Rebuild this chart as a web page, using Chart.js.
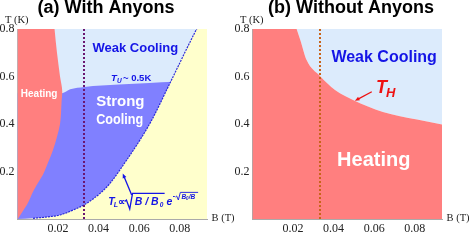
<!DOCTYPE html>
<html>
<head>
<meta charset="utf-8">
<script src="https://cdn.jsdelivr.net/npm/chart.js@4.4.1/dist/chart.umd.min.js"></script>
<style>
  html, body { margin: 0; padding: 0; background: #fff; }
  #wrap { position: relative; width: 471px; height: 250px; overflow: hidden; }
  #chartA { position: absolute; left: 0; top: 0; }
  #chartB { position: absolute; left: 235px; top: 0; }
</style>
</head>
<body>
<div id="wrap">
  <canvas id="chartA" width="235" height="250"></canvas>
  <canvas id="chartB" width="236" height="250"></canvas>
</div>
<script>
// axes
const bMax = 0.0934;
const tMax = 0.8;
const bTicks = [0.02, 0.04, 0.06, 0.08];
const tTicks = [0.2, 0.4, 0.6, 0.8];

// (a) With Anyons
const anyonLineB = 0.0328;
// heating edge, read as B at each T (the edge bends back, so it is indexed on T)
const heatEdgeT = [0, 0.03, 0.06, 0.12, 0.165, 0.185, 0.24, 0.29, 0.35, 0.4, 0.5, 0.535, 0.6, 0.7, 0.8, 0.9];
const heatEdgeB = [0.0002, 0.0024, 0.0047, 0.008, 0.0111, 0.0125, 0.0152, 0.0175, 0.0196, 0.021, 0.0218, 0.0221, 0.021, 0.0195, 0.0183, 0.0175];
// T_U, top of strong cooling
const upperB = [0, 0.022, 0.026, 0.033, 0.05, 0.065, 0.077];
const upperT = [0.53, 0.53, 0.546, 0.556, 0.566, 0.573, 0.578];
// T_L, lower edge of cooling
const lowerB = [0, 0.0077, 0.016, 0.021, 0.0275, 0.0341, 0.0407, 0.0456, 0.0538, 0.0604, 0.0662, 0.0752, 0.0883, 0.096];
const lowerT = [0, 0.003, 0.01, 0.017, 0.038, 0.066, 0.108, 0.15, 0.248, 0.333, 0.417, 0.573, 0.8, 0.92];

// (b) Without Anyons
const noAnyonLineB = 0.0333;
const hotB = [0, 0.0179, 0.0218, 0.0236, 0.0267, 0.0333, 0.0407, 0.0496, 0.0643, 0.0811, 0.0945];
const hotT = [0.9, 0.9, 0.8, 0.754, 0.669, 0.602, 0.543, 0.501, 0.451, 0.419, 0.396];

const red = "#ff7f7f";
const paleBlue = "#dcebfc";
const strongBlue = "#8080ff";
const paleYellow = "#ffffcc";
const sans = "'Liberation Sans', Arial, sans-serif";
const serif = "'Liberation Serif', 'Times New Roman', serif";

const pts = (xs, ys) => xs.map((x, i) => ({ x: x, y: ys[i] }));

function area(data, color, fill, order, extra) {
  return Object.assign({
    data: data,
    backgroundColor: color,
    borderWidth: 0,
    borderColor: "transparent",
    fill: fill,
    pointRadius: 0,
    cubicInterpolationMode: "monotone",
    clip: 0,
    order: order,
  }, extra || {});
}

function dotLine(b, color, order) {
  return {
    data: [{ x: b, y: 0 }, { x: b, y: tMax }],
    borderColor: color,
    borderWidth: 2,
    borderDash: [2, 2],
    pointRadius: 0,
    fill: false,
    clip: 0,
    order: order,
  };
}

function axes() {
  return {
    x: {
      type: "linear", min: 0, max: bMax,
      afterFit: (s) => { s.height = 31; },
      afterBuildTicks: (s) => { s.ticks = bTicks.map((v) => ({ value: v })); },
      grid: { display: false, drawTicks: false },
      border: { color: "#aaaaaa", width: 1 },
      ticks: {
        color: "#222", padding: 3, maxRotation: 0, autoSkip: false,
        font: { family: serif, size: 12 },
        callback: (v) => v.toFixed(2),
      },
    },
    y: {
      type: "linear", min: 0, max: tMax,
      afterFit: (s) => { s.width = 17.4; },
      afterBuildTicks: (s) => { s.ticks = tTicks.map((v) => ({ value: v })); },
      grid: { display: false, drawTicks: false },
      border: { color: "#aaaaaa", width: 1 },
      ticks: {
        color: "#222", padding: 3, autoSkip: false,
        font: { family: serif, size: 12 },
        callback: (v) => v.toFixed(1),
      },
    },
  };
}

function put(ctx, s, x, y, font, color, align, maxW) {
  ctx.save();
  ctx.font = font;
  ctx.fillStyle = color;
  ctx.textAlign = align || "left";
  ctx.textBaseline = "alphabetic";
  if (maxW) ctx.fillText(s, x, y, maxW);
  else ctx.fillText(s, x, y);
  ctx.restore();
}

function arrow(ctx, x1, y1, x2, y2, color, w) {
  const a = Math.atan2(y2 - y1, x2 - x1);
  const h = 5;
  ctx.save();
  ctx.strokeStyle = color;
  ctx.fillStyle = color;
  ctx.lineWidth = w;
  ctx.beginPath();
  ctx.moveTo(x1, y1);
  ctx.lineTo(x2 - Math.cos(a) * h * 0.7, y2 - Math.sin(a) * h * 0.7);
  ctx.stroke();
  ctx.beginPath();
  ctx.moveTo(x2, y2);
  ctx.lineTo(x2 - h * Math.cos(a - 0.4), y2 - h * Math.sin(a - 0.4));
  ctx.lineTo(x2 - h * Math.cos(a + 0.4), y2 - h * Math.sin(a + 0.4));
  ctx.closePath();
  ctx.fill();
  ctx.restore();
}

function poly(ctx, p, color, w) {
  ctx.save();
  ctx.strokeStyle = color;
  ctx.lineWidth = w;
  ctx.beginPath();
  p.forEach((q, i) => (i ? ctx.lineTo(q[0], q[1]) : ctx.moveTo(q[0], q[1])));
  ctx.stroke();
  ctx.restore();
}

// titles and axis names
function frameText(title, titleX) {
  return {
    id: "frameText",
    afterDraw(chart) {
      const ctx = chart.ctx;
      const ca = chart.chartArea;
      put(ctx, title, titleX, 13, "bold 18px " + sans, "#000", "center");
      put(ctx, "T (K)", ca.left - 12.4, ca.top - 6, "10.5px " + serif, "#222");
      put(ctx, "B (T)", ca.right + 4.5, ca.bottom + 2, "10.5px " + serif, "#222");
    },
  };
}

const blue = "#1414e6";

const notesA = {
  id: "notesA",
  afterDatasetsDraw(chart) {
    const ctx = chart.ctx;
    const px = (b) => chart.scales.x.getPixelForValue(b);
    const py = (t) => chart.scales.y.getPixelForValue(t);
    put(ctx, "Weak Cooling", px(0.0581), py(0.704), "bold 13px " + sans, blue, "center");
    put(ctx, "Heating", px(0.0107), py(0.515), "bold 10px " + sans, "#fff", "center");
    put(ctx, "Strong", px(0.0507), py(0.476), "bold 15px " + sans, "#fff", "center");
    put(ctx, "Cooling", px(0.0504), py(0.402), "bold 15px " + sans, "#fff", "center", 47);

    // T_U ~ 0.5K
    let x = px(0.0461), y = py(0.577);
    put(ctx, "T", x, y - 1, "italic bold 9.5px " + sans, blue);
    put(ctx, "U", x + 6, y + 1, "italic bold 6.5px " + sans, blue);
    put(ctx, "~ 0.5K", x + 12, y - 1, "bold 9.5px " + sans, blue);

    // T_L formula
    x = px(0.0447); y = py(0.059);
    put(ctx, "T", x, y, "italic bold 10.5px " + sans, blue);
    put(ctx, "L", x + 5.5, y + 2, "italic bold 7px " + sans, blue);
    put(ctx, "\u221D", x + 10, y, "bold 10px " + sans, blue);
    poly(ctx, [[x + 16.5, y - 3.5], [x + 18.3, y - 5], [x + 21.6, y + 4], [x + 24.4, y - 11.7], [x + 56.5, y - 11.7]], blue, 1.3);
    put(ctx, "B / B", x + 26.5, y, "italic bold 10.5px " + sans, blue);
    put(ctx, "0", x + 51.5, y + 2, "italic bold 6.5px " + sans, blue);
    put(ctx, "e", x + 58.4, y, "italic bold 10.5px " + sans, blue);
    put(ctx, "-", x + 64.5, y - 6.5, "bold 7px " + sans, blue);
    poly(ctx, [[x + 67.3, y - 8], [x + 68.5, y - 9], [x + 70.2, y - 5], [x + 72.2, y - 12.6], [x + 90, y - 12.6]], blue, 0.9);
    put(ctx, "B", x + 73.4, y - 6, "italic bold 6.5px " + sans, blue);
    put(ctx, "0", x + 77.8, y - 4.8, "italic bold 4.5px " + sans, blue);
    put(ctx, "/B", x + 80.5, y - 6, "italic bold 6.5px " + sans, blue);

    arrow(ctx, px(0.0563), py(0.101), px(0.0519), py(0.192), blue, 1.3);
  },
};

const notesB = {
  id: "notesB",
  afterDatasetsDraw(chart) {
    const ctx = chart.ctx;
    const px = (b) => chart.scales.x.getPixelForValue(b);
    const py = (t) => chart.scales.y.getPixelForValue(t);
    put(ctx, "Weak Cooling", px(0.0649), py(0.661), "bold 16px " + sans, blue, "center");
    put(ctx, "Heating", px(0.0598), py(0.224), "bold 20px " + sans, "#fff", "center");
    const hot = "#ee1111";
    put(ctx, "T", px(0.0609), py(0.531), "italic bold 18px " + sans, hot);
    put(ctx, "H", px(0.0658), py(0.514), "italic bold 13px " + sans, hot);
    arrow(ctx, px(0.0588), py(0.536), px(0.0505), py(0.498), hot, 1.3);
  },
};

const common = {
  responsive: false,
  animation: false,
  events: [],
  layout: { padding: { top: 29, right: 28, left: 0, bottom: 0 } },
  plugins: { legend: { display: false }, tooltip: { enabled: false } },
};

new Chart(document.getElementById("chartA"), {
  type: "line",
  data: {
    datasets: [
      area(pts(lowerB, lowerT), paleBlue, "end", 6),
      area(pts(upperB, upperT), strongBlue, "start", 5),
      area(pts(lowerB, lowerT), paleYellow, "start", 4),
      area(pts(lowerB.slice(1), lowerT.slice(1)), "transparent", false, 3, {
        borderColor: "#2a2ad8", borderWidth: 1.2, borderDash: [2, 1],
      }),
      area(pts(heatEdgeB, heatEdgeT), red, { value: 0 }, 2, { indexAxis: "y" }),
      dotLine(anyonLineB, "#6a1670", 1),
    ],
  },
  options: Object.assign({}, common, { scales: axes() }),
  plugins: [notesA, frameText("(a) With Anyons", 106)],
});

new Chart(document.getElementById("chartB"), {
  type: "line",
  data: {
    datasets: [
      area(pts(hotB, hotT), paleBlue, "end", 3),
      area(pts(hotB, hotT), red, "start", 2),
      dotLine(noAnyonLineB, "#c8641a", 1),
    ],
  },
  options: Object.assign({}, common, {
    layout: { padding: { top: 29, right: 29, left: 0, bottom: 0 } },
    scales: axes(),
  }),
  plugins: [notesB, frameText("(b) Without Anyons", 116)],
});
</script>
</body>
</html>
